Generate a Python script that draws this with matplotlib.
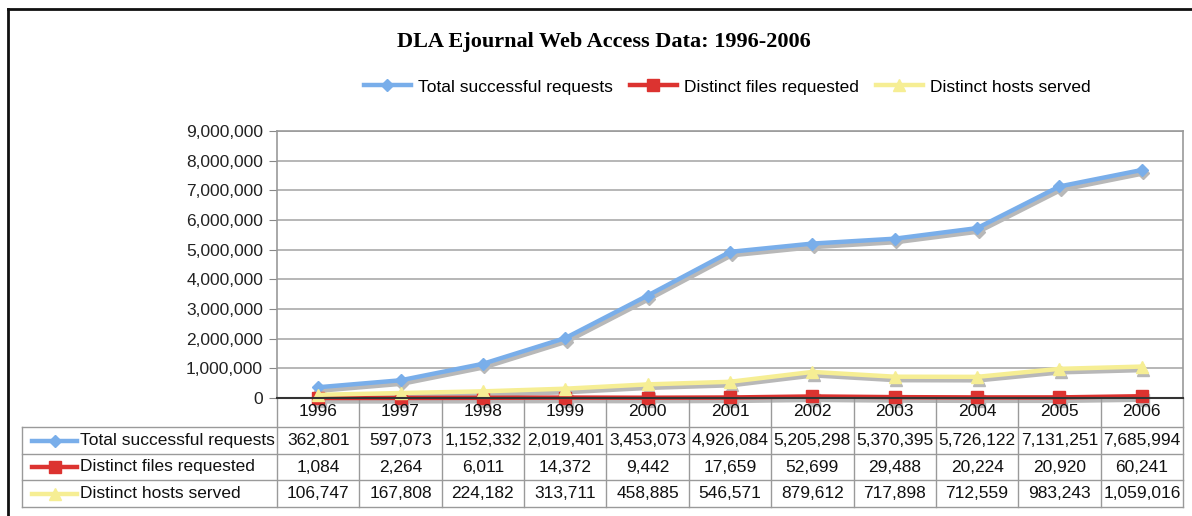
import matplotlib
matplotlib.use("Agg")
import matplotlib.pyplot as plt
import matplotlib.transforms as mtransforms
from matplotlib.lines import Line2D
from matplotlib.ticker import FuncFormatter

plt.rcParams["font.family"] = ["Liberation Sans", "DejaVu Sans"]

##DATA
years = ["1996", "1997", "1998", "1999", "2000", "2001",
         "2002", "2003", "2004", "2005", "2006"]
series_names = ["Total successful requests", "Distinct files requested",
                "Distinct hosts served"]
total_requests = [362801, 597073, 1152332, 2019401, 3453073, 4926084,
                  5205298, 5370395, 5726122, 7131251, 7685994]
distinct_files = [1084, 2264, 6011, 14372, 9442, 17659,
                  52699, 29488, 20224, 20920, 60241]
distinct_hosts = [106747, 167808, 224182, 313711, 458885, 546571,
                  879612, 717898, 712559, 983243, 1059016]
y_ticks = [0, 1000000, 2000000, 3000000, 4000000, 5000000,
           6000000, 7000000, 8000000, 9000000]

colors = ["#79aeea", "#dc3330", "#f6ee94"]
markers = ["D", "s", "^"]
marker_sizes = [6, 8, 8]
all_series = [total_requests, distinct_files, distinct_hosts]

##FIGURE
fig = plt.figure(figsize=(11.92, 5.16), dpi=100)
W, H = 1192, 516
AX_L, AX_R, AX_T, AX_B = 277, 1183, 131, 398
ax = fig.add_axes([AX_L / W, 1 - AX_B / H, (AX_R - AX_L) / W, (AX_B - AX_T) / H])

x = list(range(len(years)))
shadow = mtransforms.offset_copy(ax.transData, fig=fig, x=1.5, y=-3.5, units="dots")
handles = []
for vals, col, mk, ms, name in zip(all_series, colors, markers, marker_sizes, series_names):
    ax.plot(x, vals, color="#b8b8b8", lw=3.2, marker=mk, ms=ms,
            transform=shadow, zorder=2, clip_on=False)
    h, = ax.plot(x, vals, color=col, lw=3.2, marker=mk, ms=ms,
                 zorder=3, clip_on=False, label=name)
    handles.append(h)

ax.set_xlim(-0.5, len(years) - 0.5)
ax.set_ylim(0, 9000000)
ax.set_yticks(y_ticks)
ax.yaxis.set_major_formatter(FuncFormatter(lambda v, p: f"{int(v):,}"))
ax.tick_params(axis="y", labelsize=12.5, length=6, color="#888888",
               labelcolor="#222222", pad=4)
ax.set_xticks([])
ax.grid(axis="y", color="#aaaaaa", lw=1.2)
ax.set_axisbelow(True)
for side in ["left", "right", "top"]:
    ax.spines[side].set_color("#999999")
    ax.spines[side].set_linewidth(1.2)
ax.spines["bottom"].set_color("#333333")
ax.spines["bottom"].set_linewidth(1.5)
ax.spines["bottom"].set_zorder(4)

##DATA TABLE (drawn by hand under the axis)
def ay(py):
    # pixel row -> axes y coordinate
    return (AX_B - py) / (AX_B - AX_T)

def axx(px):
    return (px - AX_L) / (AX_R - AX_L)

blend = mtransforms.blended_transform_factory(ax.transData, ax.transAxes)
grid_col = "#9a9a9a"
row_lines = [427, 454, 480, 507]
row_y = [440.5, 467, 493.5]
header_y = 412

# vertical lines between the year columns
for i in range(len(years) + 1):
    ax.plot([i - 0.5, i - 0.5], [ay(AX_B), ay(row_lines[-1])], color=grid_col,
            lw=1.0, transform=blend, clip_on=False)
# horizontal row lines across the label column and the year columns
for py in row_lines:
    ax.plot([axx(22), 1], [ay(py), ay(py)], color=grid_col, lw=1.0,
            transform=ax.transAxes, clip_on=False)
ax.plot([axx(22), axx(22)], [ay(row_lines[0]), ay(row_lines[-1])], color=grid_col,
        lw=1.0, transform=ax.transAxes, clip_on=False)

for i, yr in enumerate(years):
    ax.text(i, ay(header_y), yr, transform=blend, ha="center", va="center",
            fontsize=12.5, color="#111111")
for vals, name, py, col, mk, ms in zip(all_series, series_names, row_y,
                                       colors, markers, marker_sizes):
    for i, v in enumerate(vals):
        ax.text(i, ay(py), f"{v:,}", transform=blend, ha="center", va="center",
                fontsize=12.5, color="#111111")
    ax.text(axx(80), ay(py), name, transform=ax.transAxes, ha="left",
            va="center", fontsize=12.5, color="#111111")
    # legend key for the row
    ax.plot([axx(32), axx(77)], [ay(py), ay(py)], color=col, lw=3.2,
            transform=ax.transAxes, clip_on=False)
    ax.plot([axx(54.5)], [ay(py)], color=col, marker=mk, ms=ms,
            transform=ax.transAxes, clip_on=False)

##TITLE AND LEGEND
fig.text(604 / W, 1 - 42 / H, "DLA Ejournal Web Access Data: 1996-2006",
         ha="center", va="center", fontsize=16, fontweight="bold",
         family=["Liberation Serif", "DejaVu Serif"])
fig.legend(handles=handles, loc="center", bbox_to_anchor=(727 / W, 1 - 87 / H),
           ncol=3, frameon=False, fontsize=12.5, handlelength=2.7,
           columnspacing=1.0, handletextpad=0.4)

# outer frame (left and top only, image is cropped)
fig.add_artist(Line2D([8 / W, 8 / W], [0, 1 - 9 / H], color="#111111", lw=2,
                      transform=fig.transFigure))
fig.add_artist(Line2D([8 / W, 1], [1 - 9 / H, 1 - 9 / H], color="#111111", lw=2,
                      transform=fig.transFigure))

fig.savefig("out.png", dpi=100)
